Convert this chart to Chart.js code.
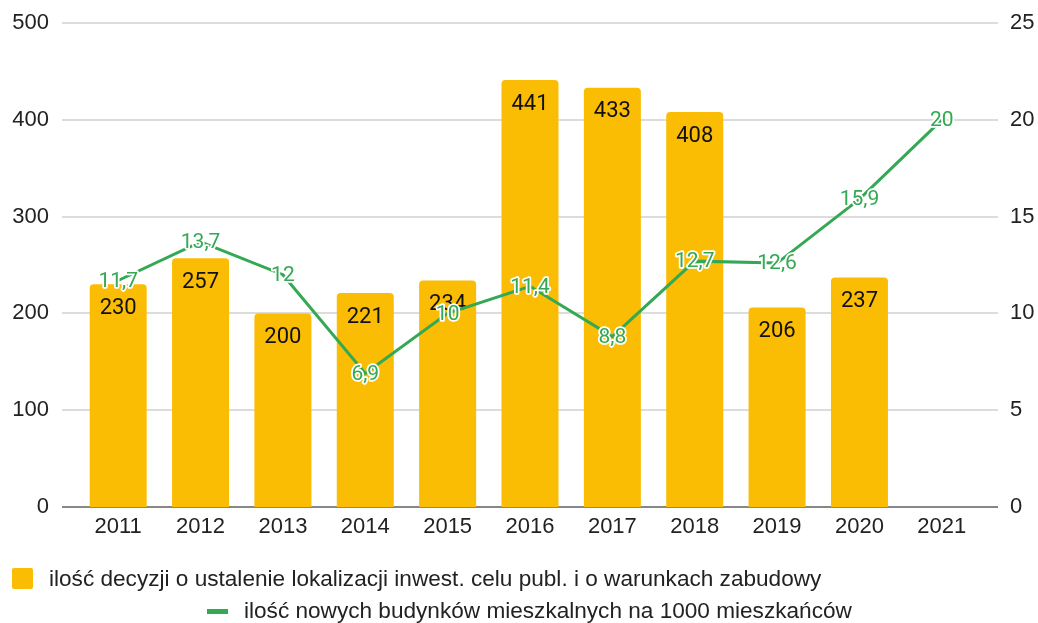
<!DOCTYPE html>
<html>
<head>
<meta charset="utf-8">
<script src="https://cdn.jsdelivr.net/npm/chart.js@4"></script>
<style>
  html, body { margin: 0; padding: 0; background: #fff; }
  #wrap { position: relative; width: 1038px; height: 623px; }
  #chart { position: absolute; left: 0; top: 0; }
  .legend { position: absolute; font-family: "Liberation Sans", Arial, sans-serif; font-size: 22.6px; color: #222; white-space: nowrap; line-height: 26px; }
  .swatch { position: absolute; }
</style>
</head>
<body>
<div id="wrap">
  <canvas id="chart" width="1038" height="623"></canvas>
  <div class="swatch" style="left:12px;top:568px;width:21px;height:21px;background:#FBBC04;border-radius:2px;"></div>
  <div class="legend" style="left:49px;top:566px;">ilość decyzji o ustalenie lokalizacji inwest. celu publ. i o warunkach zabudowy</div>
  <div class="swatch" style="left:207px;top:609px;width:21px;height:5px;background:#34A853;"></div>
  <div class="legend" style="left:244px;top:598px;">ilość nowych budynków mieszkalnych na 1000 mieszkańców</div>
</div>
<script>
// --------------------
// Data
// --------------------
const years = ["2011", "2012", "2013", "2014", "2015", "2016", "2017", "2018", "2019", "2020", "2021"];
const decisions = [230, 257, 200, 221, 234, 441, 433, 408, 206, 237, null];
const newBuildings = [11.7, 13.7, 12, 6.9, 10, 11.4, 8.8, 12.7, 12.6, 15.9, 20];
const leftTicks = [0, 100, 200, 300, 400, 500];
const rightTicks = [0, 5, 10, 15, 20, 25];

const BAR = "#FBBC04";
const GREEN = "#34A853";
const BAR_FONT = '22px Roboto, "Liberation Sans", sans-serif';
const LINE_FONT = '21px Roboto, "Liberation Sans", sans-serif';
const TICK_FONT = { family: "Liberation Sans", size: 22 };

function fmt(v) {
  return String(v).replace(".", ",");
}

// --------------------
// Gridlines (extend a bit past the category area, like Sheets)
// --------------------
const gridPlugin = {
  id: "grid",
  beforeDatasetsDraw(chart) {
    const ctx = chart.ctx;
    const y = chart.scales.y;
    const x0 = 62, x1 = 998;
    ctx.save();
    leftTicks.forEach(t => {
      const py = Math.round(y.getPixelForValue(t));
      ctx.beginPath();
      ctx.moveTo(x0, py);
      ctx.lineTo(x1, py);
      ctx.lineWidth = 1.5;
      ctx.strokeStyle = t === 0 ? "#5f5f5f" : "#d0d0d0";
      ctx.stroke();
    });
    ctx.restore();
  }
};

// --------------------
// Value labels
// --------------------
const labelPlugin = {
  id: "labels",
  afterDatasetDraw(chart, args) {
    if (args.index !== 0) return;
    const ctx = chart.ctx;
    ctx.save();
    ctx.font = BAR_FONT;
    ctx.fillStyle = "#111";
    ctx.textAlign = "center";
    ctx.textBaseline = "middle";
    args.meta.data.forEach((bar, i) => {
      if (decisions[i] == null) return;
      ctx.fillText(fmt(decisions[i]), bar.x, bar.y + 24);
    });
    ctx.restore();
  },
  afterDatasetsDraw(chart) {
    const ctx = chart.ctx;
    const meta = chart.getDatasetMeta(1);
    ctx.save();
    ctx.font = LINE_FONT;
    ctx.textAlign = "center";
    ctx.textBaseline = "middle";
    ctx.lineJoin = "round";
    meta.data.forEach((pt, i) => {
      const txt = fmt(newBuildings[i]);
      ctx.lineWidth = 3.5;
      ctx.strokeStyle = "#fff";
      ctx.strokeText(txt, pt.x, pt.y + 1);
      ctx.fillStyle = GREEN;
      ctx.fillText(txt, pt.x, pt.y + 1);
    });
    ctx.restore();
  }
};

// --------------------
// Chart.js Setup
// --------------------
new Chart(document.getElementById("chart"), {
  type: "bar",
  data: {
    labels: years,
    datasets: [
      {
        type: "bar",
        label: "ilość decyzji o ustalenie lokalizacji inwest. celu publ. i o warunkach zabudowy",
        data: decisions,
        backgroundColor: BAR,
        borderRadius: { topLeft: 4, topRight: 4 },
        borderSkipped: "bottom",
        categoryPercentage: 1,
        barPercentage: 0.692,
        yAxisID: "y",
        order: 1
      },
      {
        type: "line",
        label: "ilość nowych budynków mieszkalnych na 1000 mieszkańców",
        data: newBuildings,
        borderColor: GREEN,
        borderWidth: 3,
        pointRadius: 0,
        tension: 0,
        yAxisID: "y1",
        order: 0
      }
    ]
  },
  options: {
    responsive: false,
    animation: false,
    layout: { padding: { top: 23, bottom: 76, left: 0, right: 0 } },
    plugins: { legend: { display: false }, tooltip: { enabled: false } },
    scales: {
      x: {
        grid: { display: false, drawTicks: false },
        border: { display: false },
        ticks: { color: "#222", font: TICK_FONT, padding: 7, maxRotation: 0 },
        afterFit(s) { s.height = 40; }
      },
      y: {
        position: "left",
        min: 0, max: 500,
        afterBuildTicks(s) { s.ticks = leftTicks.map(v => ({ value: v })); },
        grid: { display: false, drawTicks: true, tickLength: 28 },
        border: { display: false },
        ticks: { color: "#222", font: TICK_FONT, padding: 0 },
        afterFit(s) { s.width = 77; }
      },
      y1: {
        position: "right",
        min: 0, max: 25,
        afterBuildTicks(s) { s.ticks = rightTicks.map(v => ({ value: v })); },
        grid: { display: false, drawTicks: true, tickLength: 27 },
        border: { display: false },
        ticks: { color: "#222", font: TICK_FONT, padding: 0 },
        afterFit(s) { s.width = 55; }
      }
    }
  },
  plugins: [gridPlugin, labelPlugin]
});
</script>
</body>
</html>
